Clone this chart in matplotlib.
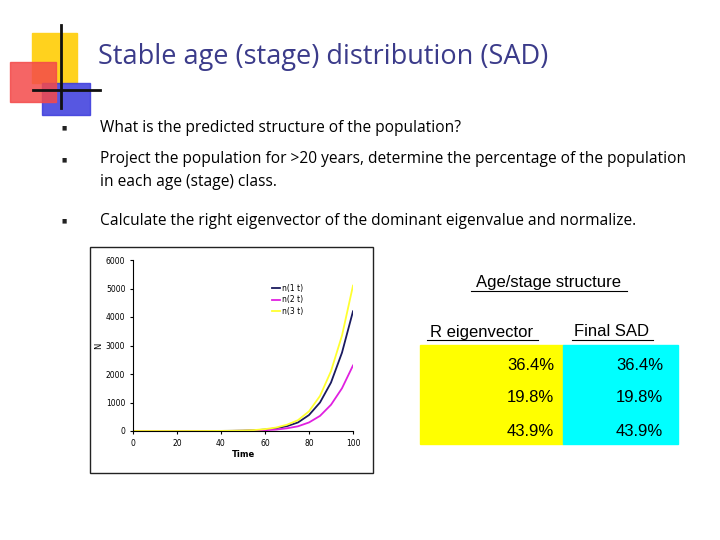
import matplotlib
matplotlib.use('Agg')
import matplotlib.pyplot as plt
from matplotlib.patches import Rectangle

# data
time = [0, 5, 10, 15, 20, 25, 30, 35, 40, 45, 50, 55, 60, 65, 70, 75, 80, 85, 90, 95, 100]
n1 = [0, 0, 0, 0, 0, 0, 1, 2, 3, 6, 12, 25, 50, 95, 170, 300, 560, 1000, 1700, 2750, 4200]
n2 = [0, 0, 0, 0, 0, 0, 1, 1, 2, 4, 7, 14, 28, 50, 95, 165, 300, 530, 920, 1500, 2300]
n3 = [0, 0, 0, 0, 0, 0, 1, 2, 4, 8, 16, 32, 65, 120, 220, 380, 690, 1230, 2100, 3350, 5100]
bullets = ['What is the predicted structure of the population?',
           'Project the population for >20 years, determine the percentage of the population\nin each age (stage) class.',
           'Calculate the right eigenvector of the dominant eigenvalue and normalize.']
r_eig = ['36.4%', '19.8%', '43.9%']
final_sad = ['36.4%', '19.8%', '43.9%']

fig = plt.figure(figsize=(7.2, 5.4), dpi=100)
bg = fig.add_axes([0, 0, 1, 1])
bg.set_xlim(0, 720)
bg.set_ylim(540, 0)
bg.axis('off')

# logo
bg.add_patch(Rectangle((32, 33), 45, 50, color='#ffd21e'))
bg.add_patch(Rectangle((42, 83), 48, 32, color='#3a3adc', alpha=0.85))
bg.add_patch(Rectangle((10, 62), 46, 40, color='#f44a4a', alpha=0.85))
bg.plot([61, 61], [25, 108], color='#111111', lw=2)
bg.plot([33, 100], [90, 90], color='#111111', lw=2)

bg.text(98, 57, 'Stable age (stage) distribution (SAD)', fontsize=19.5, color='#3b3b8a',
        family='Open Sans', va='center')
for y, t in zip([128, 160, 221], bullets):
    bg.text(62, y, '\u25a0', fontsize=4, va='center', color='#222222')
    if '\n' in t:
        bg.text(100, y - 9, t, fontsize=11.2, family='Open Sans', va='top', linespacing=1.55)
    else:
        bg.text(100, y, t, fontsize=11.2, family='Open Sans', va='center')

# chart frame
bg.add_patch(Rectangle((90, 247), 283, 226, fill=False, ec='#222222', lw=1))

ax = fig.add_axes([133 / 720, 1 - 431 / 540, 220 / 720, 171 / 540])
ax.plot(time, n1, color='#1a1a5e', lw=1.3, label='n(1 t)')
ax.plot(time, n2, color='#e020e0', lw=1.3, label='n(2 t)')
ax.plot(time, n3, color='#ffff30', lw=1.3, label='n(3 t)')
ax.set_xlim(0, 100)
ax.set_ylim(0, 6000)
ax.set_xticks(range(0, 101, 20))
ax.set_yticks(range(0, 6001, 1000))
ax.tick_params(labelsize=5.5, length=2)
for s in ['top', 'right']:
    ax.spines[s].set_visible(False)
ax.set_xlabel('Time', fontsize=6, fontweight='bold', labelpad=2)
ax.set_ylabel('N', fontsize=6, labelpad=2)
ax.legend(loc='upper left', bbox_to_anchor=(0.6, 0.9), fontsize=5.5, frameon=False,
          handlelength=1, labelspacing=0.3, handletextpad=0.3)

# table
tf = dict(fontsize=12, family='Liberation Sans', va='center')
bg.text(549, 283, 'Age/stage structure', ha='center', **tf)
bg.plot([471, 627], [291, 291], color='black', lw=0.8)
bg.text(482, 332, 'R eigenvector', ha='center', **tf)
bg.plot([427, 538], [340, 340], color='black', lw=0.8)
bg.text(612, 332, 'Final SAD', ha='center', **tf)
bg.plot([572, 653], [340, 340], color='black', lw=0.8)
bg.add_patch(Rectangle((420, 345), 143, 99, color='#ffff00'))
bg.add_patch(Rectangle((563, 345), 115, 99, color='#00ffff'))
for i, (a, b) in enumerate(zip(r_eig, final_sad)):
    y = 365 + i * 33
    bg.text(507, y, a, ha='left', **tf)
    bg.text(616, y, b, ha='left', **tf)

fig.savefig('out.png', dpi=100)
